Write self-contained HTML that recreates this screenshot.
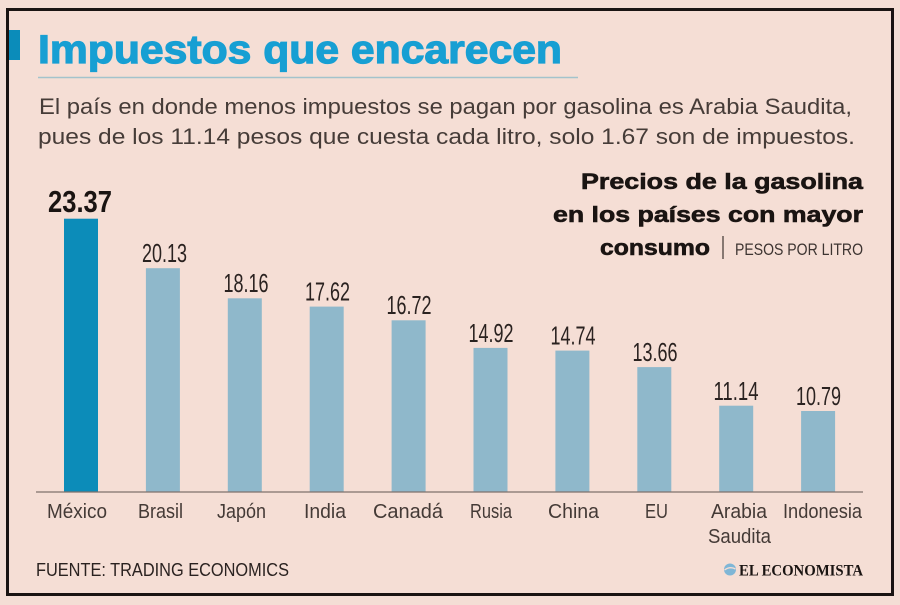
<!DOCTYPE html>
<html><head><meta charset="utf-8"><style>
html,body{margin:0;padding:0;background:#f4ded5;}
svg{display:block;}
</style></head><body>
<svg width="900" height="605" viewBox="0 0 900 605" xmlns="http://www.w3.org/2000/svg">
<rect x="0" y="0" width="900" height="605" fill="#f4ded5"/>
<rect x="7.5" y="9.5" width="885" height="585" fill="#f5ded5" stroke="#1a1412" stroke-width="3"/>
<!-- title marker -->
<rect x="9" y="30" width="11" height="30" fill="#0b8cba"/>
<text x="38" y="63" font-family="Liberation Sans, sans-serif" font-weight="bold" font-size="40" fill="#179fd3" stroke="#179fd3" stroke-width="1.2" textLength="524" lengthAdjust="spacingAndGlyphs">Impuestos que encarecen</text>
<line x1="38" y1="77.5" x2="578" y2="77.5" stroke="#a3c3cc" stroke-width="1.5"/>
<g font-family="Liberation Sans, sans-serif" font-size="22" fill="#463c38">
<text x="39" y="114" textLength="813" lengthAdjust="spacingAndGlyphs">El país en donde menos impuestos se pagan por gasolina es Arabia Saudita,</text>
<text x="38" y="144" textLength="817" lengthAdjust="spacingAndGlyphs">pues de los 11.14 pesos que cuesta cada litro, solo 1.67 son de impuestos.</text>
</g>
<!-- chart title -->
<g font-family="Liberation Sans, sans-serif" fill="#1a1412">
<text x="581" y="189" font-weight="bold" font-size="22" stroke="#1a1412" stroke-width="0.6" textLength="282" lengthAdjust="spacingAndGlyphs">Precios de la gasolina</text>
<text x="553" y="222" font-weight="bold" font-size="22" stroke="#1a1412" stroke-width="0.6" textLength="310" lengthAdjust="spacingAndGlyphs">en los países con mayor</text>
<text x="600" y="255" font-weight="bold" font-size="22" stroke="#1a1412" stroke-width="0.6" textLength="110" lengthAdjust="spacingAndGlyphs">consumo</text>
<line x1="723" y1="236" x2="723" y2="259" stroke="#3d3431" stroke-width="1.2"/>
<text x="735" y="255" font-size="17" fill="#3d3431" textLength="128" lengthAdjust="spacingAndGlyphs">PESOS POR LITRO</text>
</g>
<!-- bars -->
<rect x="64" y="218.7" width="34" height="273.3" fill="#0c8cb9"/>
<g fill="#8fb8cb">
<rect x="145.9" y="268.2" width="34" height="223.8"/>
<rect x="227.8" y="298.3" width="34" height="193.7"/>
<rect x="309.7" y="306.6" width="34" height="185.4"/>
<rect x="391.6" y="320.3" width="34" height="171.7"/>
<rect x="473.5" y="347.9" width="34" height="144.1"/>
<rect x="555.4" y="350.6" width="34" height="141.4"/>
<rect x="637.3" y="367.1" width="34" height="124.9"/>
<rect x="719.2" y="405.7" width="34" height="86.3"/>
<rect x="801.1" y="411.0" width="34" height="81"/>
</g>
<line x1="36" y1="492" x2="863" y2="492" stroke="#7f716c" stroke-width="1.3"/>
<!-- value labels -->
<text x="80" y="212" text-anchor="middle" font-family="Liberation Sans Narrow, Liberation Sans, sans-serif" font-weight="bold" font-size="31" fill="#1a1412" textLength="64" lengthAdjust="spacingAndGlyphs">23.37</text>
<g font-family="Liberation Sans Narrow, Liberation Sans, sans-serif" font-size="26" fill="#2a2220" text-anchor="middle">
<text x="164.5" y="262" textLength="45" lengthAdjust="spacingAndGlyphs">20.13</text>
<text x="246" y="292" textLength="45" lengthAdjust="spacingAndGlyphs">18.16</text>
<text x="327.5" y="300.5" textLength="45" lengthAdjust="spacingAndGlyphs">17.62</text>
<text x="409" y="314" textLength="45" lengthAdjust="spacingAndGlyphs">16.72</text>
<text x="491" y="342" textLength="45" lengthAdjust="spacingAndGlyphs">14.92</text>
<text x="573" y="344.5" textLength="45" lengthAdjust="spacingAndGlyphs">14.74</text>
<text x="655" y="361" textLength="45" lengthAdjust="spacingAndGlyphs">13.66</text>
<text x="736" y="400" textLength="45" lengthAdjust="spacingAndGlyphs">11.14</text>
<text x="818.5" y="405" textLength="45" lengthAdjust="spacingAndGlyphs">10.79</text>
</g>
<!-- category labels -->
<g font-family="Liberation Sans, sans-serif" font-size="20" fill="#443a36" text-anchor="middle">
<text x="77" y="518" textLength="60" lengthAdjust="spacingAndGlyphs">México</text>
<text x="160.5" y="518" textLength="45" lengthAdjust="spacingAndGlyphs">Brasil</text>
<text x="241.5" y="518" textLength="49" lengthAdjust="spacingAndGlyphs">Japón</text>
<text x="325" y="518" textLength="42" lengthAdjust="spacingAndGlyphs">India</text>
<text x="408" y="518" textLength="70" lengthAdjust="spacingAndGlyphs">Canadá</text>
<text x="491" y="518" textLength="42" lengthAdjust="spacingAndGlyphs">Rusia</text>
<text x="573.5" y="518" textLength="51" lengthAdjust="spacingAndGlyphs">China</text>
<text x="656.5" y="518" textLength="23" lengthAdjust="spacingAndGlyphs">EU</text>
<text x="739" y="518" textLength="56" lengthAdjust="spacingAndGlyphs">Arabia</text>
<text x="739.5" y="543" textLength="63" lengthAdjust="spacingAndGlyphs">Saudita</text>
<text x="822.5" y="518" textLength="79" lengthAdjust="spacingAndGlyphs">Indonesia</text>
</g>
<!-- footer -->
<text x="36" y="576" font-family="Liberation Sans, sans-serif" font-size="18" fill="#2a2220" textLength="253" lengthAdjust="spacingAndGlyphs">FUENTE: TRADING ECONOMICS</text>
<circle cx="730" cy="569.5" r="6" fill="#7fb6d6"/>
<path d="M724.5 570 Q730 566 735.5 569" stroke="#f4ded5" stroke-width="1.3" fill="none"/>
<text x="739" y="575.5" font-family="Liberation Serif, serif" font-weight="bold" font-size="16" fill="#1a1412" textLength="124" lengthAdjust="spacingAndGlyphs">EL ECONOMISTA</text>
</svg>
</body></html>
